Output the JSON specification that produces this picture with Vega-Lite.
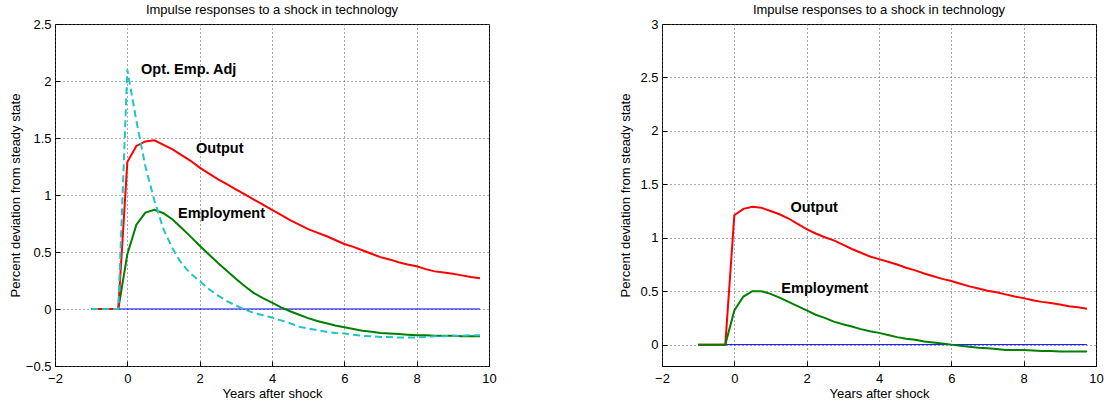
{
"$schema": "https://vega.github.io/schema/vega-lite/v6.json",
"background": "white",
"padding": {"left": 8, "top": 3, "right": 3, "bottom": 3},
"bounds": "flush",
"spacing": 173,
"config": {
  "font": "Liberation Sans",
  "view": {"stroke": "black", "strokeWidth": 1},
  "axis": {"domain": false, "grid": true, "gridDash": [1, 3], "gridColor": "#555555", "gridWidth": 1, "tickSize": -5, "tickColor": "black", "labelFont": "Liberation Sans", "labelFontSize": 13, "labelColor": "black", "labelPadding": 9, "labelFlush": false, "labelOverlap": false, "titleFont": "Liberation Sans", "titleFontSize": 13, "titleFontWeight": "normal", "titleColor": "black"},
  "axisX": {"labelPadding": 11},
  "title": {"font": "Liberation Sans", "fontSize": 13, "fontWeight": "normal", "color": "black", "offset": 1}
},
"datasets": {
  "left": [
    {"s":"out","t":-1,"v":0},{"s":"out","t":-0.75,"v":0},{"s":"out","t":-0.5,"v":0},{"s":"out","t":-0.25,"v":0},
    {"s":"out","t":0,"v":1.29},{"s":"out","t":0.25,"v":1.43},{"s":"out","t":0.5,"v":1.47},{"s":"out","t":0.75,"v":1.48},
    {"s":"out","t":1,"v":1.44},{"s":"out","t":1.25,"v":1.40},{"s":"out","t":1.5,"v":1.35},{"s":"out","t":1.75,"v":1.30},
    {"s":"out","t":2,"v":1.24},{"s":"out","t":2.25,"v":1.19},{"s":"out","t":2.5,"v":1.14},{"s":"out","t":2.75,"v":1.095},
    {"s":"out","t":3,"v":1.05},{"s":"out","t":3.25,"v":1.005},{"s":"out","t":3.5,"v":0.96},{"s":"out","t":3.75,"v":0.915},
    {"s":"out","t":4,"v":0.87},{"s":"out","t":4.25,"v":0.825},{"s":"out","t":4.5,"v":0.78},{"s":"out","t":4.75,"v":0.74},
    {"s":"out","t":5,"v":0.70},{"s":"out","t":5.25,"v":0.67},{"s":"out","t":5.5,"v":0.64},{"s":"out","t":5.75,"v":0.605},
    {"s":"out","t":6,"v":0.57},{"s":"out","t":6.25,"v":0.545},{"s":"out","t":6.5,"v":0.515},{"s":"out","t":6.75,"v":0.485},
    {"s":"out","t":7,"v":0.455},{"s":"out","t":7.25,"v":0.435},{"s":"out","t":7.5,"v":0.41},{"s":"out","t":7.75,"v":0.39},
    {"s":"out","t":8,"v":0.375},{"s":"out","t":8.25,"v":0.35},{"s":"out","t":8.5,"v":0.33},{"s":"out","t":8.75,"v":0.32},
    {"s":"out","t":9,"v":0.31},{"s":"out","t":9.25,"v":0.295},{"s":"out","t":9.5,"v":0.28},{"s":"out","t":9.75,"v":0.27},
    {"s":"emp","t":-1,"v":0},{"s":"emp","t":-0.75,"v":0},{"s":"emp","t":-0.5,"v":0},{"s":"emp","t":-0.25,"v":0},
    {"s":"emp","t":0,"v":0.48},{"s":"emp","t":0.25,"v":0.74},{"s":"emp","t":0.5,"v":0.845},{"s":"emp","t":0.75,"v":0.87},
    {"s":"emp","t":1,"v":0.84},{"s":"emp","t":1.25,"v":0.785},{"s":"emp","t":1.5,"v":0.71},{"s":"emp","t":1.75,"v":0.635},
    {"s":"emp","t":2,"v":0.555},{"s":"emp","t":2.25,"v":0.48},{"s":"emp","t":2.5,"v":0.405},{"s":"emp","t":2.75,"v":0.335},
    {"s":"emp","t":3,"v":0.265},{"s":"emp","t":3.25,"v":0.2},{"s":"emp","t":3.5,"v":0.14},{"s":"emp","t":3.75,"v":0.095},
    {"s":"emp","t":4,"v":0.055},{"s":"emp","t":4.25,"v":0.015},{"s":"emp","t":4.5,"v":-0.02},{"s":"emp","t":4.75,"v":-0.05},
    {"s":"emp","t":5,"v":-0.08},{"s":"emp","t":5.25,"v":-0.105},{"s":"emp","t":5.5,"v":-0.125},{"s":"emp","t":5.75,"v":-0.145},
    {"s":"emp","t":6,"v":-0.16},{"s":"emp","t":6.25,"v":-0.175},{"s":"emp","t":6.5,"v":-0.19},{"s":"emp","t":6.75,"v":-0.2},
    {"s":"emp","t":7,"v":-0.21},{"s":"emp","t":7.25,"v":-0.215},{"s":"emp","t":7.5,"v":-0.22},{"s":"emp","t":7.75,"v":-0.225},
    {"s":"emp","t":8,"v":-0.23},{"s":"emp","t":8.25,"v":-0.23},{"s":"emp","t":8.5,"v":-0.235},{"s":"emp","t":8.75,"v":-0.235},
    {"s":"emp","t":9,"v":-0.235},{"s":"emp","t":9.25,"v":-0.24},{"s":"emp","t":9.5,"v":-0.24},{"s":"emp","t":9.75,"v":-0.24},
    {"s":"opt","t":-1,"v":0},{"s":"opt","t":-0.75,"v":0},{"s":"opt","t":-0.5,"v":0},{"s":"opt","t":-0.25,"v":0},
    {"s":"opt","t":0,"v":2.1},{"s":"opt","t":0.25,"v":1.65},{"s":"opt","t":0.5,"v":1.25},{"s":"opt","t":0.75,"v":0.95},
    {"s":"opt","t":1,"v":0.7},{"s":"opt","t":1.25,"v":0.53},{"s":"opt","t":1.5,"v":0.4},{"s":"opt","t":1.75,"v":0.31},
    {"s":"opt","t":2,"v":0.245},{"s":"opt","t":2.25,"v":0.175},{"s":"opt","t":2.5,"v":0.12},{"s":"opt","t":2.75,"v":0.07},
    {"s":"opt","t":3,"v":0.03},{"s":"opt","t":3.25,"v":-0.005},{"s":"opt","t":3.5,"v":-0.035},{"s":"opt","t":3.75,"v":-0.055},
    {"s":"opt","t":4,"v":-0.075},{"s":"opt","t":4.25,"v":-0.1},{"s":"opt","t":4.5,"v":-0.125},{"s":"opt","t":4.75,"v":-0.155},
    {"s":"opt","t":5,"v":-0.17},{"s":"opt","t":5.25,"v":-0.185},{"s":"opt","t":5.5,"v":-0.2},{"s":"opt","t":5.75,"v":-0.21},
    {"s":"opt","t":6,"v":-0.215},{"s":"opt","t":6.25,"v":-0.225},{"s":"opt","t":6.5,"v":-0.235},{"s":"opt","t":6.75,"v":-0.24},
    {"s":"opt","t":7,"v":-0.245},{"s":"opt","t":7.25,"v":-0.245},{"s":"opt","t":7.5,"v":-0.25},{"s":"opt","t":7.75,"v":-0.25},
    {"s":"opt","t":8,"v":-0.25},{"s":"opt","t":8.25,"v":-0.245},{"s":"opt","t":8.5,"v":-0.24},{"s":"opt","t":8.75,"v":-0.24},
    {"s":"opt","t":9,"v":-0.235},{"s":"opt","t":9.25,"v":-0.235},{"s":"opt","t":9.5,"v":-0.23},{"s":"opt","t":9.75,"v":-0.23},
    {"s":"zero","t":-0.25,"v":0},{"s":"zero","t":9.75,"v":0}
  ],
  "right": [
    {"s":"out","t":-1,"v":0},{"s":"out","t":-0.75,"v":0},{"s":"out","t":-0.5,"v":0},{"s":"out","t":-0.25,"v":0},
    {"s":"out","t":0,"v":1.21},{"s":"out","t":0.25,"v":1.27},{"s":"out","t":0.5,"v":1.29},{"s":"out","t":0.75,"v":1.28},
    {"s":"out","t":1,"v":1.25},{"s":"out","t":1.25,"v":1.22},{"s":"out","t":1.5,"v":1.18},{"s":"out","t":1.75,"v":1.13},
    {"s":"out","t":2,"v":1.08},{"s":"out","t":2.25,"v":1.04},{"s":"out","t":2.5,"v":1.005},{"s":"out","t":2.75,"v":0.975},
    {"s":"out","t":3,"v":0.935},{"s":"out","t":3.25,"v":0.895},{"s":"out","t":3.5,"v":0.86},{"s":"out","t":3.75,"v":0.825},
    {"s":"out","t":4,"v":0.8},{"s":"out","t":4.25,"v":0.775},{"s":"out","t":4.5,"v":0.75},{"s":"out","t":4.75,"v":0.72},
    {"s":"out","t":5,"v":0.695},{"s":"out","t":5.25,"v":0.665},{"s":"out","t":5.5,"v":0.64},{"s":"out","t":5.75,"v":0.615},
    {"s":"out","t":6,"v":0.595},{"s":"out","t":6.25,"v":0.57},{"s":"out","t":6.5,"v":0.545},{"s":"out","t":6.75,"v":0.525},
    {"s":"out","t":7,"v":0.505},{"s":"out","t":7.25,"v":0.49},{"s":"out","t":7.5,"v":0.47},{"s":"out","t":7.75,"v":0.45},
    {"s":"out","t":8,"v":0.435},{"s":"out","t":8.25,"v":0.415},{"s":"out","t":8.5,"v":0.4},{"s":"out","t":8.75,"v":0.39},
    {"s":"out","t":9,"v":0.375},{"s":"out","t":9.25,"v":0.36},{"s":"out","t":9.5,"v":0.35},{"s":"out","t":9.75,"v":0.335},
    {"s":"emp","t":-1,"v":0},{"s":"emp","t":-0.75,"v":0},{"s":"emp","t":-0.5,"v":0},{"s":"emp","t":-0.25,"v":0},
    {"s":"emp","t":0,"v":0.32},{"s":"emp","t":0.25,"v":0.45},{"s":"emp","t":0.5,"v":0.5},{"s":"emp","t":0.75,"v":0.5},
    {"s":"emp","t":1,"v":0.475},{"s":"emp","t":1.25,"v":0.44},{"s":"emp","t":1.5,"v":0.4},{"s":"emp","t":1.75,"v":0.36},
    {"s":"emp","t":2,"v":0.32},{"s":"emp","t":2.25,"v":0.28},{"s":"emp","t":2.5,"v":0.25},{"s":"emp","t":2.75,"v":0.215},
    {"s":"emp","t":3,"v":0.19},{"s":"emp","t":3.25,"v":0.17},{"s":"emp","t":3.5,"v":0.145},{"s":"emp","t":3.75,"v":0.125},
    {"s":"emp","t":4,"v":0.11},{"s":"emp","t":4.25,"v":0.09},{"s":"emp","t":4.5,"v":0.07},{"s":"emp","t":4.75,"v":0.055},
    {"s":"emp","t":5,"v":0.045},{"s":"emp","t":5.25,"v":0.03},{"s":"emp","t":5.5,"v":0.02},{"s":"emp","t":5.75,"v":0.01},
    {"s":"emp","t":6,"v":0},{"s":"emp","t":6.25,"v":-0.01},{"s":"emp","t":6.5,"v":-0.02},{"s":"emp","t":6.75,"v":-0.03},
    {"s":"emp","t":7,"v":-0.035},{"s":"emp","t":7.25,"v":-0.04},{"s":"emp","t":7.5,"v":-0.05},{"s":"emp","t":7.75,"v":-0.05},
    {"s":"emp","t":8,"v":-0.05},{"s":"emp","t":8.25,"v":-0.055},{"s":"emp","t":8.5,"v":-0.06},{"s":"emp","t":8.75,"v":-0.06},
    {"s":"emp","t":9,"v":-0.065},{"s":"emp","t":9.25,"v":-0.065},{"s":"emp","t":9.5,"v":-0.065},{"s":"emp","t":9.75,"v":-0.065},
    {"s":"zero","t":-0.25,"v":0},{"s":"zero","t":9.75,"v":0}
  ],
  "leftLabels": [
    {"label":"Opt. Emp. Adj","t":0.38,"v":2.1},
    {"label":"Output","t":1.9,"v":1.4},
    {"label":"Employment","t":1.4,"v":0.83}
  ],
  "rightLabels": [
    {"label":"Output","t":1.55,"v":1.28},
    {"label":"Employment","t":1.3,"v":0.52}
  ]
},
"hconcat": [
  {
    "width": 434, "height": 342,
    "title": "Impulse responses to a shock in technology",
    "encoding": {
      "x": {"field": "t", "type": "quantitative", "scale": {"domain": [-2, 10], "nice": false, "zero": false}, "axis": {"values": [-2,0,2,4,6,8,10], "format": ".1~f", "title": "Years after shock", "titlePadding": 2}},
      "y": {"field": "v", "type": "quantitative", "scale": {"domain": [-0.5, 2.5], "nice": false, "zero": false}, "axis": {"values": [-0.5,0,0.5,1,1.5,2,2.5], "format": ".1~f", "title": "Percent deviation from steady state", "titlePadding": 3}}
    },
    "layer": [
      {"data": {"name": "left"}, "transform": [{"filter": "datum.s === 'zero'"}], "mark": {"type": "line", "color": "#0000ff", "strokeWidth": 1}},
      {"data": {"name": "left"}, "transform": [{"filter": "datum.s === 'emp'"}], "mark": {"type": "line", "color": "#007f00", "strokeWidth": 2}},
      {"data": {"name": "left"}, "transform": [{"filter": "datum.s === 'out'"}], "mark": {"type": "line", "color": "#ff0000", "strokeWidth": 2}},
      {"data": {"name": "left"}, "transform": [{"filter": "datum.s === 'opt'"}], "mark": {"type": "line", "color": "#22c4c4", "strokeWidth": 2, "strokeDash": [7, 4]}},
      {"data": {"name": "leftLabels"}, "mark": {"type": "text", "align": "left", "baseline": "middle", "fontSize": 14.5, "fontWeight": "bold", "color": "black"}, "encoding": {"text": {"field": "label"}}}
    ]
  },
  {
    "width": 434, "height": 342,
    "title": "Impulse responses to a shock in technology",
    "encoding": {
      "x": {"field": "t", "type": "quantitative", "scale": {"domain": [-2, 10], "nice": false, "zero": false}, "axis": {"values": [-2,0,2,4,6,8,10], "format": ".1~f", "title": "Years after shock", "titlePadding": 2}},
      "y": {"field": "v", "type": "quantitative", "scale": {"domain": [-0.2, 3], "nice": false, "zero": false}, "axis": {"values": [0,0.5,1,1.5,2,2.5,3], "format": ".1~f", "title": "Percent deviation from steady state", "titlePadding": 7}}
    },
    "layer": [
      {"data": {"name": "right"}, "transform": [{"filter": "datum.s === 'zero'"}], "mark": {"type": "line", "color": "#0000ff", "strokeWidth": 1}},
      {"data": {"name": "right"}, "transform": [{"filter": "datum.s === 'out'"}], "mark": {"type": "line", "color": "#ff0000", "strokeWidth": 2}},
      {"data": {"name": "right"}, "transform": [{"filter": "datum.s === 'emp'"}], "mark": {"type": "line", "color": "#007f00", "strokeWidth": 2}},
      {"data": {"name": "rightLabels"}, "mark": {"type": "text", "align": "left", "baseline": "middle", "fontSize": 14.5, "fontWeight": "bold", "color": "black"}, "encoding": {"text": {"field": "label"}}}
    ]
  }
]
}
